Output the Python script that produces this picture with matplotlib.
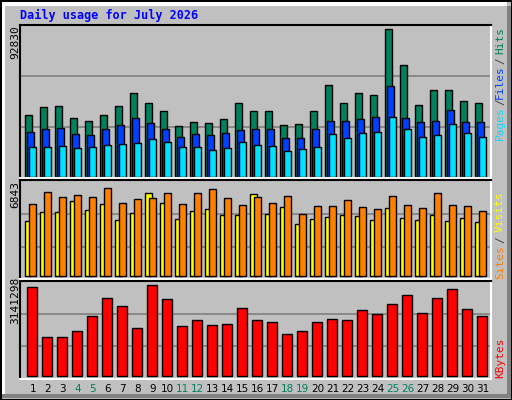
import matplotlib
matplotlib.use("Agg")
import matplotlib.pyplot as plt
import numpy as np
from matplotlib.patches import Rectangle

days = list(range(1, 32))
weekend = [4, 5, 11, 12, 18, 19, 25, 26]
hits = [38100, 43000, 43700, 36300, 34400, 38100, 43700, 51600, 45500, 40600, 31400, 33800, 33200, 35700, 45500,
        40600, 40600, 32000, 32600, 40600, 56600, 45500, 51600, 50400, 91000, 68900, 44300, 53500, 53500, 46700, 45500]
files = [27700, 29500, 30100, 26400, 25800, 29500, 32000, 36300, 33200, 29500, 24600, 26400, 25800, 27100, 28900,
         29500, 29500, 24000, 24000, 29500, 34400, 34400, 35700, 36900, 55900, 36300, 33800, 34400, 41200, 33800, 33800]
pages = [18400, 18400, 19100, 17800, 18400, 19700, 20300, 20900, 23400, 21500, 18400, 18400, 16600, 17800, 21500,
         19700, 19100, 16000, 17200, 18400, 26400, 24000, 27100, 27700, 36900, 29500, 24600, 25800, 32600, 27100, 24600]
sites = [4120, 4770, 4770, 5560, 4920, 5360, 4190, 4700, 6140, 5430, 4270, 4840, 4990, 4550, 4550,
         6070, 4620, 5120, 3890, 4270, 4410, 4550, 4480, 4190, 5040, 4340, 4190, 4550, 4120, 4340, 3990]
visits = [5330, 6260, 5900, 6040, 5900, 6550, 5400, 5760, 5830, 6190, 5330, 6190, 6480, 5830, 5260,
          5900, 5400, 5970, 4630, 5190, 5190, 5690, 5120, 4990, 5970, 5260, 5040, 6190, 5260, 5190, 4840]
kbytes = [2960000, 1290000, 1320000, 1490000, 2020000, 2590000, 2330000, 1620000, 3030000, 2560000, 1660000,
          1860000, 1690000, 1750000, 2260000, 1860000, 1790000, 1390000, 1520000, 1820000, 1890000, 1860000,
          2200000, 2060000, 2390000, 2700000, 2100000, 2590000, 2920000, 2230000, 2020000]
max_top, max_mid, max_bot = 92830, 6843, 3141298

W, H = 512, 400
fig = plt.figure(figsize=(W / 100, H / 100), dpi=100)
fig.patch.set_facecolor("#C0C0C0")
mono = "DejaVu Sans Mono"

def ax_px(x0, y0, x1, y1):
    return fig.add_axes([x0 / W, 1 - y1 / H, (x1 - x0) / W, (y1 - y0) / H])

# outer frame
fig.add_artist(Rectangle((0.5 / W, 0.5 / H), 1 - 1 / W, 1 - 1 / H, transform=fig.transFigure,
                         fill=False, ec="black", lw=1.5))
fig.add_artist(Rectangle((507 / W, 2 / H), 4 / W, 392 / H, transform=fig.transFigure, fc="#808080", ec="none"))
fig.add_artist(Rectangle((2 / W, 2 / H), 509 / W, 4 / H, transform=fig.transFigure, fc="#808080", ec="none"))
fig.add_artist(Rectangle((2 / W, 394 / H), 505 / W, 4 / H, transform=fig.transFigure, fc="white", ec="none"))
fig.add_artist(Rectangle((2 / W, 6 / H), 3 / W, 392 / H, transform=fig.transFigure, fc="white", ec="none"))

x = np.array(days, dtype=float)
xl = (1 - 10.8 / 15, 1 + 460.2 / 15)
px = 1 / 15

def style(ax, ymax, grids):
    ax.set_facecolor("#C0C0C0")
    ax.set_xlim(*xl)
    for g in grids:
        ax.axhline(g * ymax, color="#808080", lw=1.2, zorder=0)
    ax.set_yticks([])
    ax.set_xticks([])
    for s in ["top", "left"]:
        ax.spines[s].set_color("black")
    for s in ["bottom", "right"]:
        ax.spines[s].set_color("white")
    for s in ax.spines.values():
        s.set_linewidth(1.5)

ax1 = ax_px(20, 25, 491, 178)
style(ax1, max_top, [1 / 3, 2 / 3])
ax1.set_ylim(-max_top * 1 / 151, max_top * 152 / 151)
ax1.bar(x - 5.5 * px, hits, width=7 * px, align="edge", color="#00805C", ec="black", lw=1)
ax1.bar(x - 3.5 * px, files, width=7 * px, align="edge", color="#0040FF", ec="black", lw=1)
ax1.bar(x - 1.5 * px, pages, width=7 * px, align="edge", color="#00E0FF", ec="black", lw=1)

ax2 = ax_px(20, 180, 491, 279)
style(ax2, max_mid, [0.317, 0.676])
ax2.set_ylim(-max_mid * 3 / 92, max_mid * 96 / 92)
ax2.bar(x - 5.5 * px, sites, width=7 * px, align="edge", color="#FFFF00", ec="black", lw=1)
ax2.bar(x - 1.5 * px, visits, width=7 * px, align="edge", color="#FF8000", ec="black", lw=1)

ax3 = ax_px(20, 281, 491, 379)
style(ax3, max_bot, [0.315, 0.66])
ax3.set_ylim(-max_bot * 3 / 94, max_bot * 95 / 94)
ax3.bar(x - 4.1 * px, kbytes, width=10 * px, align="edge", color="#FF0000", ec="black", lw=1)

for d in days:
    fig.text((20 + (d - xl[0]) * 15 + 2) / W, 1 - 389 / H, str(d), ha="center", va="center",
             fontsize=7.5, family="DejaVu Sans", color="#00805C" if d in weekend else "black")

fig.text(20 / W, 1 - 15 / H, "Daily usage for July 2026", fontsize=8.5, family=mono,
         weight="bold", color="#0000FF", va="center", ha="left")

def lbl(xp, yp, s, c, rot=90, fs=8):
    fig.text(xp / W, 1 - yp / H, s, rotation=rot, ha="center", va="center",
             fontsize=fs, family=mono, color=c)

lbl(15, 42, "92830", "black")
lbl(15, 194, "6843", "black")
lbl(15, 300, "3141298", "black")

lbl(500, 41, "Hits", "#00805C")
lbl(500, 61, "/", "#404040")
lbl(500, 82, "Files", "#0040FF")
lbl(500, 102, "/", "#404040")
lbl(500, 123, "Pages", "#00E0FF")
lbl(500, 212, "Visits", "#FFFF00")
lbl(500, 240, "/", "#404040")
lbl(500, 262, "Sites", "#FF8000")
lbl(500, 358, "KBytes", "#FF0000")

fig.savefig("out.png", dpi=100, facecolor=fig.get_facecolor())
